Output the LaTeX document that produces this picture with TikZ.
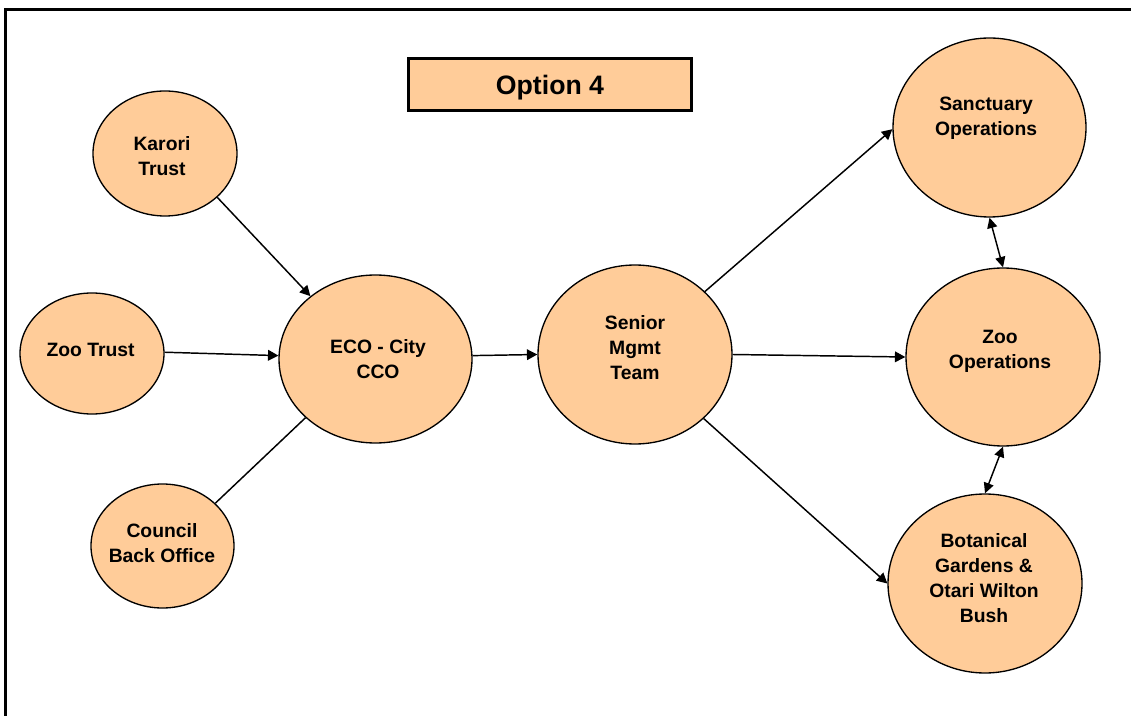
\documentclass[tikz,border=0pt]{standalone}
\usepackage{fontspec}
\setmainfont{Liberation Sans}
\usetikzlibrary{shapes.geometric,arrows.meta}
\definecolor{peach}{RGB}{255,204,153}
\begin{document}
\begin{tikzpicture}[x=0.75pt,y=-0.75pt,
  bubble/.style={ellipse,draw=black,fill=peach,line width=1pt,inner sep=0pt},
  txt/.style={font=\bfseries\fontsize{14.5}{18.75}\selectfont,align=center,inner sep=0pt},
  conn/.style={line width=1.1pt,-{Triangle[length=7.8pt,width=8pt]}},
  link/.style={line width=1.1pt},
  dbl/.style={line width=1.1pt,{Triangle[length=7.8pt,width=7.5pt]}-{Triangle[length=7.8pt,width=7.5pt]}},
  titlebox/.style={draw=black,line width=2.25pt,fill=peach,inner sep=0pt,text depth=0pt,font=\bfseries\fontsize{20}{24}\selectfont}
]
\useasboundingbox (0,0) rectangle (1131,716);
\begin{scope}
\clip (0,0) rectangle (1131,716);
\draw[line width=2.25pt] (5.5,10) rectangle (1160,740);
\end{scope}

\node[titlebox,minimum width=212.25pt,minimum height=39pt] (title) at (550,84.5) {Option 4};

\node[bubble,minimum width=108pt,minimum height=93.75pt,
  label={[txt,xshift=-2.25pt,yshift=-1.7pt]center:Karori\\Trust}] (karori) at (165,153.5) {};
\node[bubble,minimum width=108pt,minimum height=90.75pt,
  label={[txt,xshift=-1.1pt,yshift=2.6pt]center:Zoo Trust}] (zootrust) at (92,353.5) {};
\node[bubble,minimum width=107.25pt,minimum height=93pt,
  label={[txt,xshift=-0.4pt,yshift=2pt]center:Council\\Back Office}] (council) at (162.5,546) {};
\node[bubble,minimum width=144.75pt,minimum height=126pt,
  label={[txt,xshift=1.9pt,yshift=0.2pt]center:ECO - City\\CCO}] (eco) at (375.5,359) {};
\node[bubble,minimum width=145.5pt,minimum height=134.25pt,
  label={[txt,yshift=5.25pt]center:Senior\\Mgmt\\Team}] (senior) at (635,354.5) {};
\node[bubble,minimum width=144.75pt,minimum height=134.25pt,
  label={[txt,xshift=-2.6pt,yshift=7.1pt]center:Sanctuary\\Operations}] (sanct) at (989.5,127.5) {};
\node[bubble,minimum width=145.5pt,minimum height=133.5pt,
  label={[txt,xshift=-2.25pt,yshift=4.5pt]center:Zoo\\Operations}] (zooops) at (1003,357) {};
\node[bubble,minimum width=145.5pt,minimum height=134.25pt,
  label={[txt,xshift=-0.75pt,yshift=4.1pt]center:Botanical\\Gardens \&\\Otari Wilton\\Bush}] (botan) at (985,583.5) {};

\draw[conn] (karori.-40) -- (eco.136);
\draw[conn] (zootrust.1) -- (eco.178);
\draw[link] (council.39) -- (eco.-140);
\draw[conn] (eco.2) -- (senior.180);
\draw[conn] (senior.42) -- (sanct.181);
\draw[conn] (senior.0) -- (zooops.180);
\draw[conn] (senior.-43) -- (botan.180);
\draw[dbl] (sanct.-90) -- (zooops.90);
\draw[dbl] (zooops.-90) -- (botan.90);
\end{tikzpicture}
\end{document}
